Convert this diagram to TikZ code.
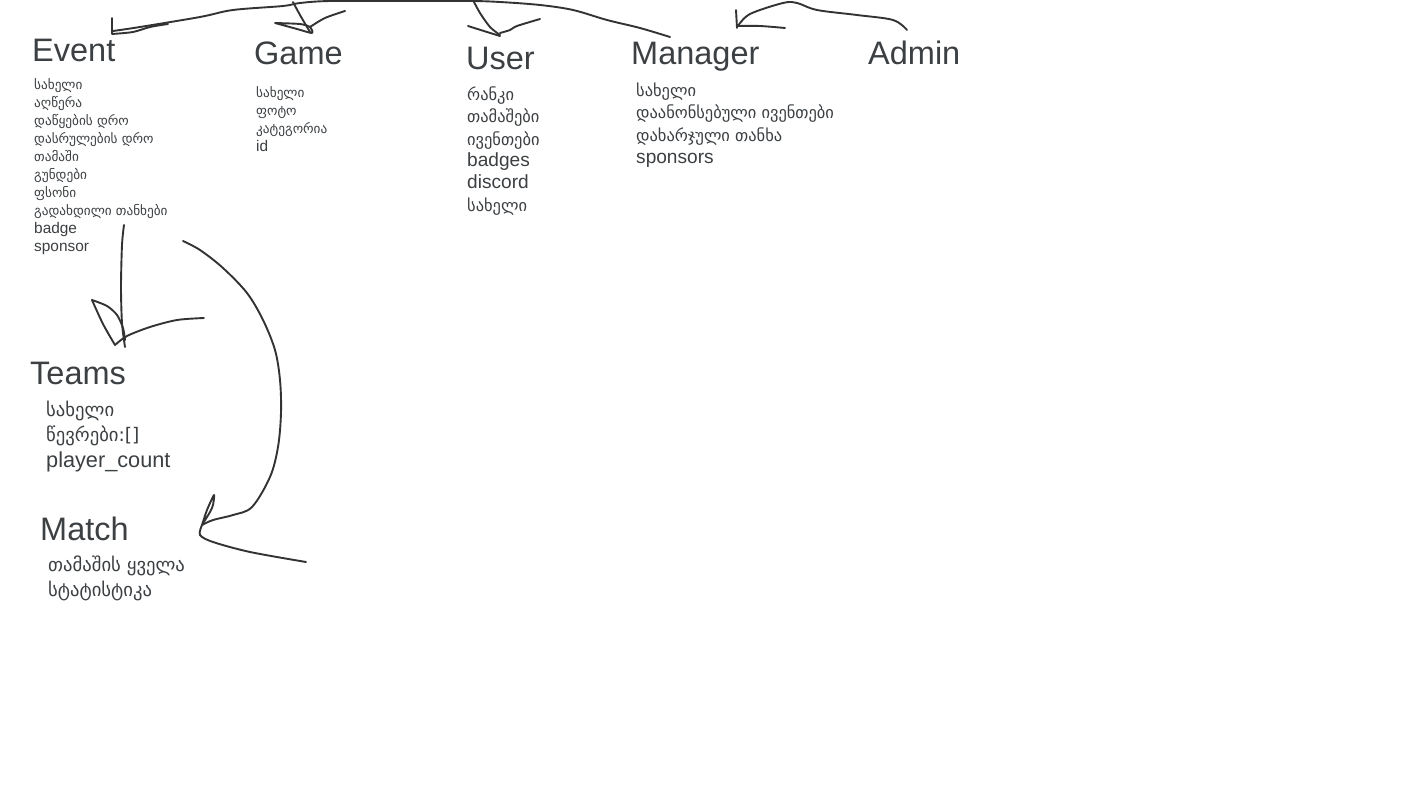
\documentclass[tikz,border=0pt]{standalone}
\usepackage{fontspec}
\setmainfont{Liberation Sans}
\newfontfamily\geo[Scale=0.86]{DejaVu Sans}
\definecolor{txt}{HTML}{3C4043}
\definecolor{ink}{HTML}{333333}
\begin{document}
\begin{tikzpicture}[x=1pt,y=-1pt,
  title/.style={anchor=base west, inner sep=0, text=txt, font=\fontsize{32.5}{32.5}\selectfont},
  itemS/.style={anchor=base west, inner sep=0, text=txt, font=\fontsize{15.4}{15.4}\selectfont},
  itemM/.style={anchor=base west, inner sep=0, text=txt, font=\fontsize{19.1}{19.1}\selectfont},
  itemL/.style={anchor=base west, inner sep=0, text=txt, font=\fontsize{21.7}{21.7}\selectfont},
  stroke/.style={draw=ink, line width=1.9pt, line cap=round, line join=round}]
\useasboundingbox[fill=white] (0,0) rectangle (1422,800);

% titles
\node[title] (event) at (32,62) {Event};
\node[title] (game) at (254,65) {Game};
\node[title] (user) at (466,70) {User};
\node[title] (manager) at (631,65) {Manager};
\node[title] (admin) at (868,65) {Admin};
\node[title] (teams) at (30,384) {Teams};
\node[title] (match) at (40,540) {Match};

% Event attributes
\node[itemS] (ev1) at (34,89) {\geo სახელი};
\node[itemS] (ev2) at (34,107) {\geo აღწერა};
\node[itemS] (ev3) at (34,125) {\geo დაწყების დრო};
\node[itemS] (ev4) at (34,143) {\geo დასრულების დრო};
\node[itemS] (ev5) at (34,161) {\geo თამაში};
\node[itemS] (ev6) at (34,179) {\geo გუნდები};
\node[itemS] (ev7) at (34,197) {\geo ფსონი};
\node[itemS] (ev8) at (34,215) {\geo გადახდილი თანხები};
\node[itemS] (ev9) at (34,233) {badge};
\node[itemS] (ev10) at (34,251) {sponsor};

% Game attributes
\node[itemS] (ga1) at (256,97) {\geo სახელი};
\node[itemS] (ga2) at (256,115) {\geo ფოტო};
\node[itemS] (ga3) at (256,133) {\geo კატეგორია};
\node[itemS] (ga4) at (256,151) {id};

% User attributes
\node[itemM] (us1) at (467,100) {\geo რანკი};
\node[itemM] (us2) at (467,122) {\geo თამაშები};
\node[itemM] (us3) at (467,145) {\geo ივენთები};
\node[itemM] (us4) at (467,166) {badges};
\node[itemM] (us5) at (467,188) {discord};
\node[itemM] (us6) at (467,211) {\geo სახელი};

% Manager attributes
\node[itemM] (ma1) at (636,96) {\geo სახელი};
\node[itemM] (ma2) at (636,118) {\geo დაანონსებული ივენთები};
\node[itemM] (ma3) at (636,141) {\geo დახარჯული თანხა};
\node[itemM] (ma4) at (636,163) {sponsors};

% Teams attributes
\node[itemL] (te1) at (46,416) {\geo სახელი};
\node[itemL] (te2) at (46,441) {\geo წევრები:[]};
\node[itemL] (te3) at (46,467) {player\_count};

% Match attributes
\node[itemL] (mt1) at (48,571) {\geo თამაშის ყველა};
\node[itemL] (mt2) at (48,596) {\geo სტატისტიკა};

% top stroke: Manager -> ... -> Event
\draw[stroke] plot[smooth, tension=0.55] coordinates {(670,37) (640,28) (607,20) (573,10) (540,5) (500,2) (470,1) (400,1) (330,1) (300,3) (283,6) (233,10) (200,17) (140,27) (113,31)};
\draw[stroke] (112,18) -- (112,34) plot[smooth, tension=0.5] coordinates {(112,34) (133,32) (150,27) (168,24)};
% Game branch
\draw[stroke] plot[smooth, tension=0.5] coordinates {(293,2) (300,15) (310,32)};
\draw[stroke] plot[smooth, tension=0.4] coordinates {(275,23) (300,24) (310,27) (312,33) (297,29) (275,23)};
\draw[stroke] plot[smooth, tension=0.5] coordinates {(310,27) (325,18) (345,11)};
% User branch
\draw[stroke] plot[smooth, tension=0.5] coordinates {(473,0) (480,13) (490,27) (500,35)};
\draw[stroke] plot[smooth, tension=0.5] coordinates {(468,26) (487,32) (500,36)};
\draw[stroke] plot[smooth, tension=0.5] coordinates {(500,33) (510,30) (517,26) (540,19)};
% Admin -> Manager
\draw[stroke] plot[smooth, tension=0.55] coordinates {(907,30) (893,20) (857,15) (817,10) (797,3) (783,3) (750,14) (738,26)};
\draw[stroke] (736,10) -- (737,28);
\draw[stroke] plot[smooth, tension=0.5] coordinates {(738,26) (760,26) (785,28)};
% Event -> Teams
\draw[stroke] plot[smooth, tension=0.5] coordinates {(124,225) (122,245) (121,287) (122,323) (125,347)};
\draw[stroke] plot[smooth, tension=0.5] coordinates {(92,300) (103,324) (115,345)};
\draw[stroke] plot[smooth, tension=0.5] coordinates {(92,300) (107,306) (117,315) (123,328) (125,340)};
\draw[stroke] plot[smooth, tension=0.5] coordinates {(115,345) (127,336) (150,327) (177,320) (204,318)};
% Event -> Match
\draw[stroke] plot[smooth, tension=0.55] coordinates {(183,241) (200,250) (223,268) (247,293) (263,320) (275,350) (280,380) (281,413) (278,447) (270,477) (252,507) (233,515) (213,520) (202,525)};
\draw[stroke] plot[smooth, tension=0.4] coordinates {(202,525) (207,510) (214,495) (213,505) (210,512) (202,525)};
\draw[stroke] plot[smooth, tension=0.5] coordinates {(202,525) (200,535) (213,542) (250,552) (306,562)};
\end{tikzpicture}
\end{document}
